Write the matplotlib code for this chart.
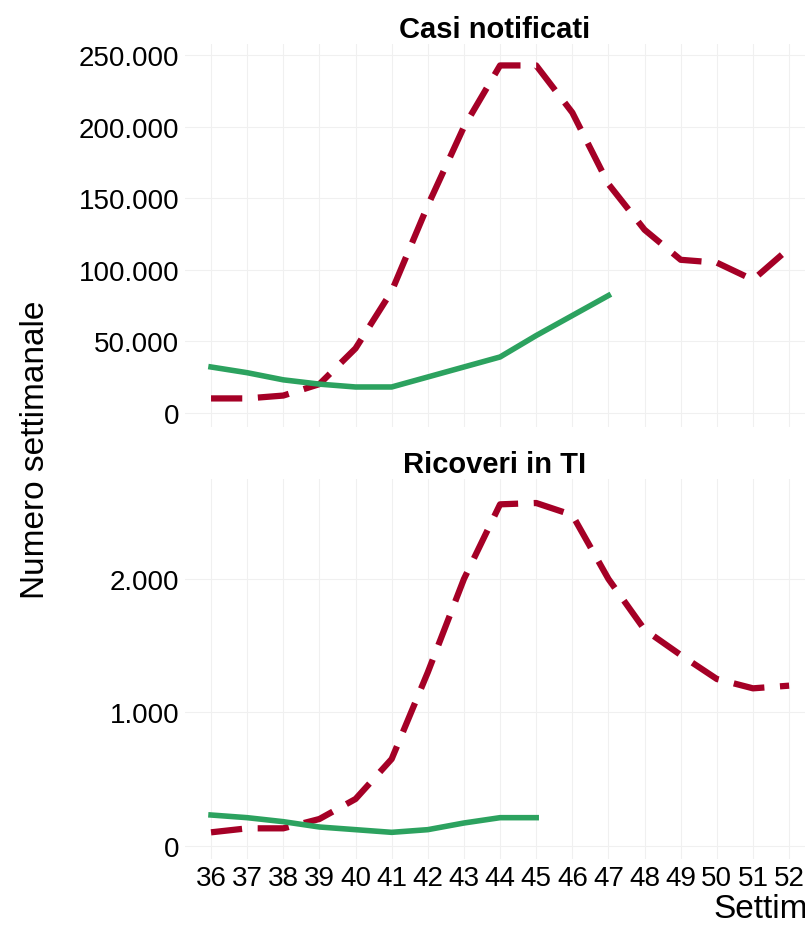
import matplotlib
matplotlib.use("Agg")
import matplotlib.pyplot as plt
from matplotlib.ticker import FuncFormatter

plt.rcParams['font.family'] = ['Liberation Sans', 'DejaVu Sans']

weeks = list(range(36, 53))
casi_prev = [10000, 10000, 12000, 20000, 45000, 85000, 145000, 200000, 243000, 243000, 210000, 160000, 128000, 107000, 105000, 93000, 115000]
casi_oss = [32000, 28000, 23000, 20000, 18000, 18000, 25000, 32000, 39000, 54000, 68000, 82000]
ti_prev = [100, 130, 130, 200, 350, 650, 1300, 2000, 2560, 2570, 2480, 2000, 1620, 1430, 1250, 1180, 1200]
ti_oss = [230, 210, 180, 140, 120, 100, 120, 170, 210, 210]

RED = "#a50026"
GREEN = "#2ca25f"
fmt = FuncFormatter(lambda v, p: f"{int(v):,}".replace(",", "."))

fig = plt.figure(figsize=(8.05, 9.29), dpi=100)
W, H = 805, 929
def ax_at(l, t, r, b):
    return fig.add_axes([l / W, 1 - b / H, (r - l) / W, (b - t) / H])

ax1 = ax_at(185, 45, 805, 428)
ax2 = ax_at(185, 480, 805, 860)

for ax, prev, oss, title in [(ax1, casi_prev, casi_oss, "Casi notificati"), (ax2, ti_prev, ti_oss, "Ricoveri in TI")]:
    ax.plot(weeks[:len(prev)], prev, color=RED, lw=4.5, ls=(0, (5, 2.5)))
    ax.plot(weeks[:len(oss)], oss, color=GREEN, lw=4)
    ax.set_xlim(35.28, 52.44)
    ax.set_title(title, fontsize=21, fontweight="bold", pad=5)
    ax.grid(True, color="#f0f0f0", lw=0.8)
    for s in ax.spines.values():
        s.set_visible(False)
    ax.tick_params(length=0, labelsize=20, colors="black", pad=4)
    ax.yaxis.set_major_formatter(fmt)
    ax.set_xticks(weeks)

ax1.set_ylim(-10000, 258000)
ax1.set_yticks([0, 50000, 100000, 150000, 200000, 250000])
ax1.set_xticklabels([])
ax2.set_ylim(-100, 2750)
ax2.set_yticks([0, 1000, 2000])
ax2.set_xticklabels([str(w) for w in weeks])
fig.text(35 / W, 1 - 450 / H, "Numero settimanale", rotation=90, va="center", ha="center", fontsize=24)
fig.text(713 / W, 1 - 910 / H, "Settimana", va="center", ha="left", fontsize=24)
fig.savefig("out.png", dpi=100)
